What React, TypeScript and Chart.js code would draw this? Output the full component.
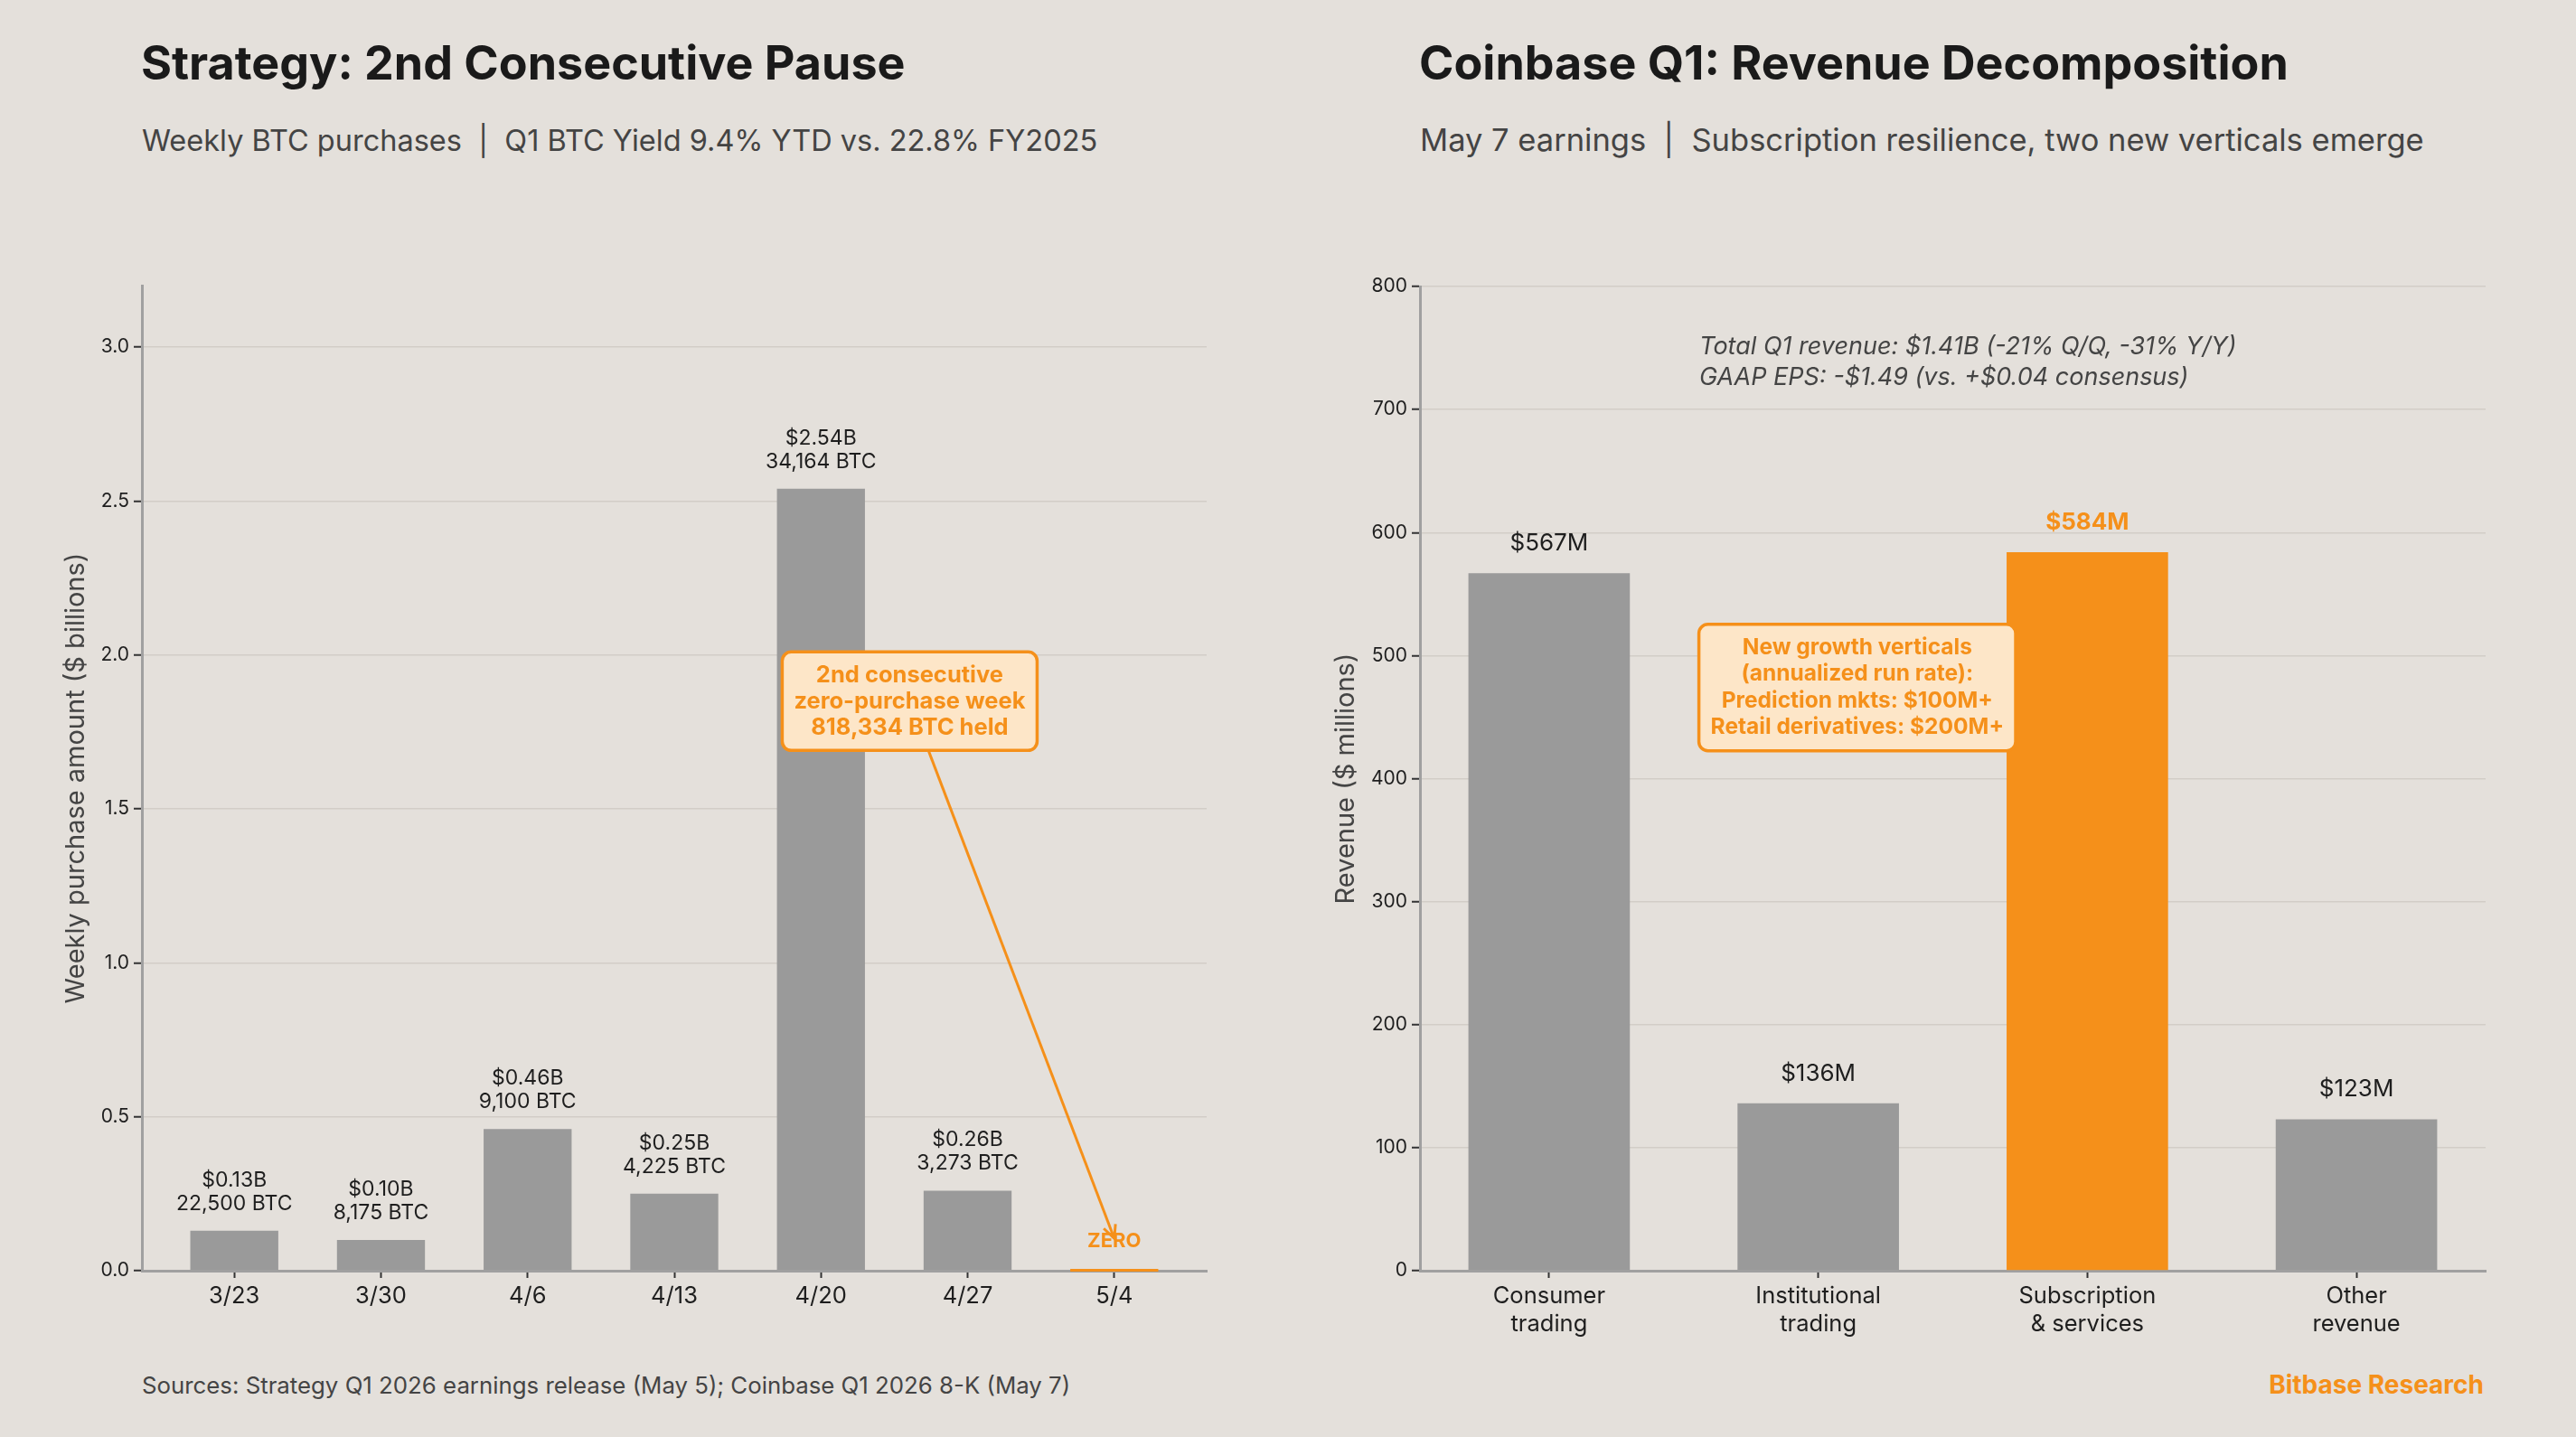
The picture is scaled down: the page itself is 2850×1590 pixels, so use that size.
import React, { useEffect, useRef } from 'react';
import { Chart, registerables } from 'chart.js';

Chart.register(...registerables);

// ---------- data ----------
const weekLabels = ['3/23', '3/30', '4/6', '4/13', '4/20', '4/27', '5/4'];
const weeklyUsdB = [0.13, 0.10, 0.46, 0.25, 2.54, 0.26, 0];
const weeklyBtc = [22500, 8175, 9100, 4225, 34164, 3273, 0];
const leftCallout = ['2nd consecutive', 'zero-purchase week', '818,334 BTC held'];

const revCategories = [
  ['Consumer', 'trading'],
  ['Institutional', 'trading'],
  ['Subscription', '& services'],
  ['Other', 'revenue'],
];
const revValuesM = [567, 136, 584, 123];
const revHighlight = [false, false, true, false];
const rightNote = [
  'Total Q1 revenue: $1.41B (-21% Q/Q, -31% Y/Y)',
  'GAAP EPS: -$1.49 (vs. +$0.04 consensus)',
];
const rightCallout = [
  'New growth verticals',
  '(annualized run rate):',
  'Prediction mkts: $100M+',
  'Retail derivatives: $200M+',
];

// ---------- style ----------
const FONT = 'Inter, "Open Sans", "DejaVu Sans", sans-serif';
const BG = '#e4e0db';
const GRAY = '#9a9a9a';
const ORANGE = '#f5901a';
const BOX_FILL = '#fde6c8';
const INK = '#1e1e1e';
const SUB = '#444444';
const GRID = '#d2cdc7';
const AXIS = '#a0a0a0';

function drawCallout(ctx: CanvasRenderingContext2D, lines: string[], cx: number, cy: number, size: number, lineH: number, tip?: { x: number; y: number }) {
  ctx.save();
  ctx.font = `700 ${size}px ${FONT}`;
  const maxW = Math.max(...lines.map((l) => ctx.measureText(l).width));
  const padX = 13, padY = 11;
  const w = maxW + padX * 2;
  const h = lines.length * lineH + padY * 2;
  const x0 = cx - w / 2, y0 = cy - h / 2;
  if (tip) {
    const dx = tip.x - cx, dy = tip.y - cy;
    const tX = dx !== 0 ? (w / 2) / Math.abs(dx) : Infinity;
    const tY = dy !== 0 ? (h / 2) / Math.abs(dy) : Infinity;
    const t = Math.min(tX, tY);
    const sx = cx + dx * t, sy = cy + dy * t;
    ctx.strokeStyle = ORANGE;
    ctx.lineWidth = 3;
    ctx.beginPath();
    ctx.moveTo(sx, sy);
    ctx.lineTo(tip.x, tip.y);
    ctx.stroke();
    const ang = Math.atan2(tip.y - sy, tip.x - sx);
    const hl = 16, hw = 0.45;
    ctx.beginPath();
    ctx.moveTo(tip.x - hl * Math.cos(ang - hw), tip.y - hl * Math.sin(ang - hw));
    ctx.lineTo(tip.x, tip.y);
    ctx.lineTo(tip.x - hl * Math.cos(ang + hw), tip.y - hl * Math.sin(ang + hw));
    ctx.stroke();
  }
  ctx.beginPath();
  ctx.roundRect(x0, y0, w, h, 10);
  ctx.fillStyle = BOX_FILL;
  ctx.fill();
  ctx.lineWidth = 3.5;
  ctx.strokeStyle = ORANGE;
  ctx.stroke();
  ctx.fillStyle = ORANGE;
  ctx.textAlign = 'center';
  ctx.textBaseline = 'middle';
  lines.forEach((l, i) => {
    ctx.fillText(l, cx, y0 + padY + lineH * (i + 0.5));
  });
  ctx.restore();
}

const leftDeco = {
  id: 'leftDeco',
  afterDatasetsDraw(chart: any) {
    const ctx: CanvasRenderingContext2D = chart.ctx;
    const meta = chart.getDatasetMeta(0);
    const xs = chart.scales.x, ys = chart.scales.y;
    const base = ys.getPixelForValue(0);
    ctx.save();
    ctx.textAlign = 'center';
    ctx.textBaseline = 'middle';
    meta.data.forEach((bar: any, i: number) => {
      const v = weeklyUsdB[i];
      if (v === 0) {
        ctx.fillStyle = ORANGE;
        ctx.fillRect(bar.x - bar.width / 2, base - 2, bar.width, 3);
        ctx.font = `700 22px ${FONT}`;
        ctx.fillText('ZERO', bar.x, base - 33);
      } else {
        ctx.fillStyle = INK;
        ctx.font = `400 23px ${FONT}`;
        ctx.fillText(`$${v.toFixed(2)}B`, bar.x, bar.y - 56);
        ctx.fillText(`${weeklyBtc[i].toLocaleString('en-US')} BTC`, bar.x, bar.y - 30);
      }
    });
    ctx.restore();
    drawCallout(ctx, leftCallout, xs.getPixelForValue(4.605), ys.getPixelForValue(1.85), 25.5, 29, {
      x: xs.getPixelForValue(6),
      y: ys.getPixelForValue(0.105),
    });
  },
};

const rightDeco = {
  id: 'rightDeco',
  afterDatasetsDraw(chart: any) {
    const ctx: CanvasRenderingContext2D = chart.ctx;
    const meta = chart.getDatasetMeta(0);
    const xs = chart.scales.x, ys = chart.scales.y;
    ctx.save();
    ctx.textAlign = 'center';
    ctx.textBaseline = 'middle';
    meta.data.forEach((bar: any, i: number) => {
      const hi = revHighlight[i];
      ctx.fillStyle = hi ? ORANGE : INK;
      ctx.font = `${hi ? 700 : 400} 26px ${FONT}`;
      ctx.fillText(`$${revValuesM[i]}M`, bar.x, bar.y - 33);
    });
    ctx.textAlign = 'left';
    ctx.fillStyle = SUB;
    ctx.font = `italic 400 27px ${FONT}`;
    const nx = xs.getPixelForValue(0.558);
    rightNote.forEach((l, i) => {
      ctx.fillText(l, nx, ys.getPixelForValue(751) + i * 34);
    });
    ctx.restore();
    drawCallout(ctx, rightCallout, xs.getPixelForValue(1.145), ys.getPixelForValue(474), 24.5, 29.5);
  },
};

function baseOptions(opts: any) {
  return {
    responsive: false,
    animation: false,
    layout: { padding: opts.padding },
    plugins: { legend: { display: false }, tooltip: { enabled: false } },
    scales: {
      x: {
        type: 'linear',
        min: opts.xMin,
        max: opts.xMax,
        offset: false,
        afterFit: (s: any) => { s.height = 184; },
        grid: { offset: false, drawOnChartArea: false, drawTicks: true, tickLength: 8, tickColor: '#333', tickWidth: 2 },
        border: { display: true, color: AXIS, width: 3 },
        ticks: {
          stepSize: 1,
          includeBounds: false,
          autoSkip: false,
          maxRotation: 0,
          padding: 5,
          color: INK,
          font: { family: FONT, size: 25.5 },
          callback: (v: number) => (Number.isInteger(v) && opts.xLabels[v] !== undefined ? opts.xLabels[v] : ''),
        },
      },
      y: {
        min: 0,
        max: opts.yMax,
        afterFit: (s: any) => { s.width = opts.yWidth; },
        grid: { color: GRID, lineWidth: 1.5, tickLength: 9, tickColor: '#333', tickWidth: 2 },
        border: { display: true, color: AXIS, width: 3 },
        ticks: {
          stepSize: opts.yStep,
          includeBounds: false,
          padding: 5,
          color: INK,
          font: { family: FONT, size: 21 },
          callback: opts.yFmt,
        },
        title: {
          display: true,
          text: opts.yTitle,
          color: SUB,
          font: { family: FONT, size: 29 },
          padding: { top: opts.yTitlePad, bottom: 0 },
        },
      },
    },
  };
}

export default function App() {
  const leftRef = useRef<HTMLCanvasElement>(null);
  const rightRef = useRef<HTMLCanvasElement>(null);

  useEffect(() => {
    const left = new Chart(leftRef.current as HTMLCanvasElement, {
      type: 'bar',
      data: {
        datasets: [
          {
            data: weeklyUsdB.map((v, i) => ({ x: i, y: v })),
            backgroundColor: weeklyUsdB.map((v) => (v === 0 ? ORANGE : GRAY)),
            barPercentage: 0.6,
            categoryPercentage: 1,
          },
        ],
      },
      options: baseOptions({
        padding: { left: 0, right: 1515, top: 316, bottom: 0 },
        xMin: -0.63,
        xMax: 6.63,
        xLabels: weekLabels,
        yMax: 3.2,
        yStep: 0.5,
        yWidth: 157,
        yFmt: (v: number) => v.toFixed(1),
        yTitle: 'Weekly purchase amount ($ billions)',
        yTitlePad: 67,
      }) as any,
      plugins: [leftDeco],
    });
    const right = new Chart(rightRef.current as HTMLCanvasElement, {
      type: 'bar',
      data: {
        datasets: [
          {
            data: revValuesM.map((v, i) => ({ x: i, y: v })),
            backgroundColor: revHighlight.map((h) => (h ? ORANGE : GRAY)),
            barPercentage: 0.6,
            categoryPercentage: 1,
          },
        ],
      },
      options: baseOptions({
        padding: { left: 1430, right: 100, top: 317, bottom: 0 },
        xMin: -0.48,
        xMax: 3.48,
        xLabels: revCategories,
        yMax: 800,
        yStep: 100,
        yWidth: 141,
        yFmt: (v: number) => String(v),
        yTitle: 'Revenue ($ millions)',
        yTitlePad: 42,
      }) as any,
      plugins: [rightDeco],
    });
    return () => {
      left.destroy();
      right.destroy();
    };
  }, []);

  const text = (t: string, x: number, cy: number, size: number, weight: number, color: string, align: 'left' | 'right' = 'left') => (
    <div
      style={{
        position: 'absolute',
        ...(align === 'left' ? { left: x } : { right: 2850 - x }),
        top: cy,
        transform: 'translateY(-50%)',
        fontFamily: FONT,
        fontSize: size,
        fontWeight: weight,
        color,
        lineHeight: 1.2,
        whiteSpace: 'pre',
      }}
    >
      {t}
    </div>
  );

  return (
    <div style={{ position: 'absolute', left: 0, top: 0, width: 2850, height: 1590, background: BG, overflow: 'hidden' }}>
      {text('Strategy: 2nd Consecutive Pause', 156, 70, 52, 700, '#1a1a1a')}
      {text('Weekly BTC purchases  |  Q1 BTC Yield 9.4% YTD vs. 22.8% FY2025', 157, 155, 32.5, 400, SUB)}
      {text('Coinbase Q1: Revenue Decomposition', 1570, 70, 52, 700, '#1a1a1a')}
      {text('May 7 earnings  |  Subscription resilience, two new verticals emerge', 1571, 155, 34.5, 400, SUB)}
      {text('Sources: Strategy Q1 2026 earnings release (May 5); Coinbase Q1 2026 8-K (May 7)', 157, 1533, 25.8, 400, SUB)}
      {text('Bitbase Research', 2748, 1533, 28, 700, ORANGE, 'right')}
      <canvas ref={leftRef} width={2850} height={1590} style={{ position: 'absolute', left: 0, top: 0, width: 2850, height: 1590 }} />
      <canvas ref={rightRef} width={2850} height={1590} style={{ position: 'absolute', left: 0, top: 0, width: 2850, height: 1590 }} />
    </div>
  );
}
